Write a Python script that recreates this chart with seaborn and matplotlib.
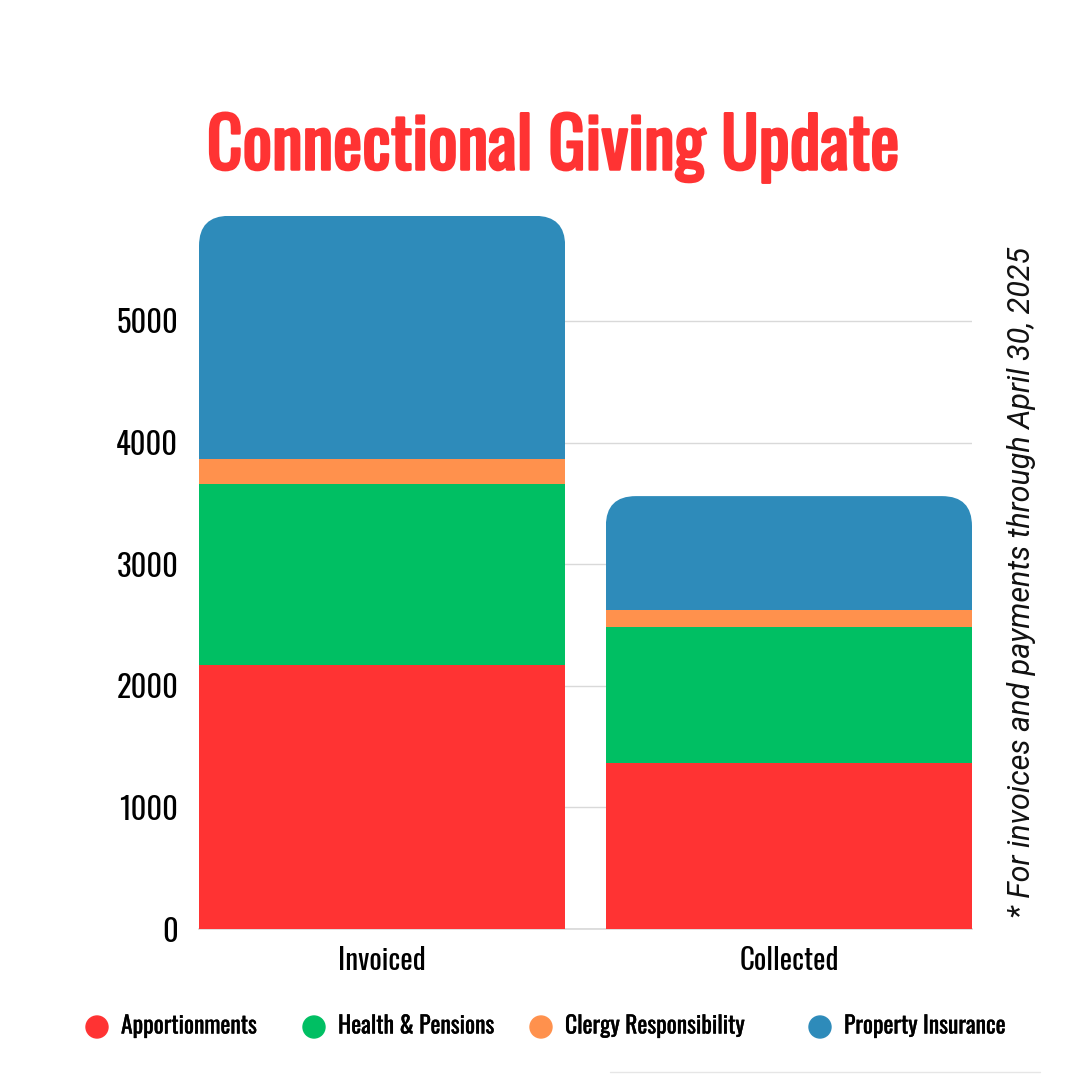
import numpy as np
import pandas as pd
import matplotlib
matplotlib.use("Agg")
import matplotlib.pyplot as plt
import matplotlib.patheffects as pe
from matplotlib.patches import FancyBboxPatch
import seaborn as sns

# values
categories = ["Invoiced", "Collected"]
series = ["Apportionments", "Health & Pensions", "Clergy Responsibility", "Property Insurance"]
apportionments = [2170, 1365]
health_pensions = [1490, 1120]
clergy = [205, 140]
property_ins = [2000, 935]
colors = ["#FF3333", "#00BF63", "#FF914D", "#2E8BBA"]

sns.set_theme(style="white")
cond = ["Oswald", "Barlow Condensed", "DejaVu Sans"]
plt.rcParams["font.family"] = cond

df = pd.DataFrame({"category": categories,
                   series[0]: apportionments, series[1]: health_pensions,
                   series[2]: clergy, series[3]: property_ins})
cum = df[series].cumsum(axis=1)

fig = plt.figure(figsize=(10.8, 10.8), dpi=100)
ax = fig.add_axes([199 / 1080, 1 - 929 / 1080, 773 / 1080, (929 - 200) / 1080])

# stacked bars: draw the running totals from the top series down
top_patches = None
for i in range(len(series) - 1, -1, -1):
    sns.barplot(x=df["category"], y=cum[series[i]], color=colors[i], width=0.9,
                saturation=1, linewidth=0, ax=ax, zorder=3)
    if i == len(series) - 1:
        top_patches = list(ax.patches)

ax.set_xlim(-0.45, 1.45)
ymax = 5000 / (929 - 321) * (929 - 200)
ax.set_ylim(0, ymax)

# round the top corners of the stacked bars
xpp = 1.9 / 773
ypp = ymax / (929 - 200)
r = 30 * xpp
for p in top_patches:
    clip = FancyBboxPatch((p.get_x(), p.get_y()), p.get_width(), p.get_height(),
                          boxstyle=f"round,pad=0,rounding_size={r}",
                          mutation_aspect=ypp / xpp, transform=ax.transData,
                          facecolor="none", edgecolor="none")
    p.set_clip_path(clip)

ax.set_yticks([0, 1000, 2000, 3000, 4000, 5000])
ax.yaxis.grid(True, color="#D9D9D9", linewidth=1, zorder=0)
ax.set_axisbelow(True)
for s in ["top", "right", "left"]:
    ax.spines[s].set_visible(False)
ax.spines["bottom"].set_color("#D9D9D9")
ax.tick_params(axis="y", labelsize=22, pad=15, length=0, labelcolor="black")
ax.tick_params(axis="x", labelsize=21, pad=12, length=0, labelcolor="black")
ax.set_xlabel("")
ax.set_ylabel("")

title = fig.text(553 / 1080, 1 - 148 / 1080, "Connectional Giving Update", ha="center",
                 va="center", fontsize=50, fontweight="bold", color="#FF3333", family=cond)
title.set_path_effects([pe.Stroke(linewidth=1.8, foreground="#FF3333"), pe.Normal()])

fig.text(1022 / 1080, 1 - 582 / 1080, "* For invoices and payments through April 30, 2025",
         rotation=90, ha="center", va="center", fontsize=22, style="italic",
         color="#111111", family=["Roboto", "Open Sans", "DejaVu Sans"])

# legend row
leg_x = [97, 314, 541, 820]
for x, name, c in zip(leg_x, series, colors):
    fig.patches.append(plt.Circle((x / 1080, 1 - 1027 / 1080), 11 / 1080, color=c,
                                  transform=fig.transFigure, figure=fig))
    t = fig.text((x + 24) / 1080, 1 - 1026 / 1080, name, ha="left", va="center",
                 fontsize=17, color="black", family=cond)
    t.set_path_effects([pe.Stroke(linewidth=0.25, foreground="black"), pe.Normal()])

# faint rule at the bottom right
fig.add_artist(plt.Line2D([610 / 1080, 1040 / 1080], [1 - 1072 / 1080] * 2,
                          color="#E6E6E6", linewidth=1, transform=fig.transFigure))

fig.savefig("out.png", dpi=100)
